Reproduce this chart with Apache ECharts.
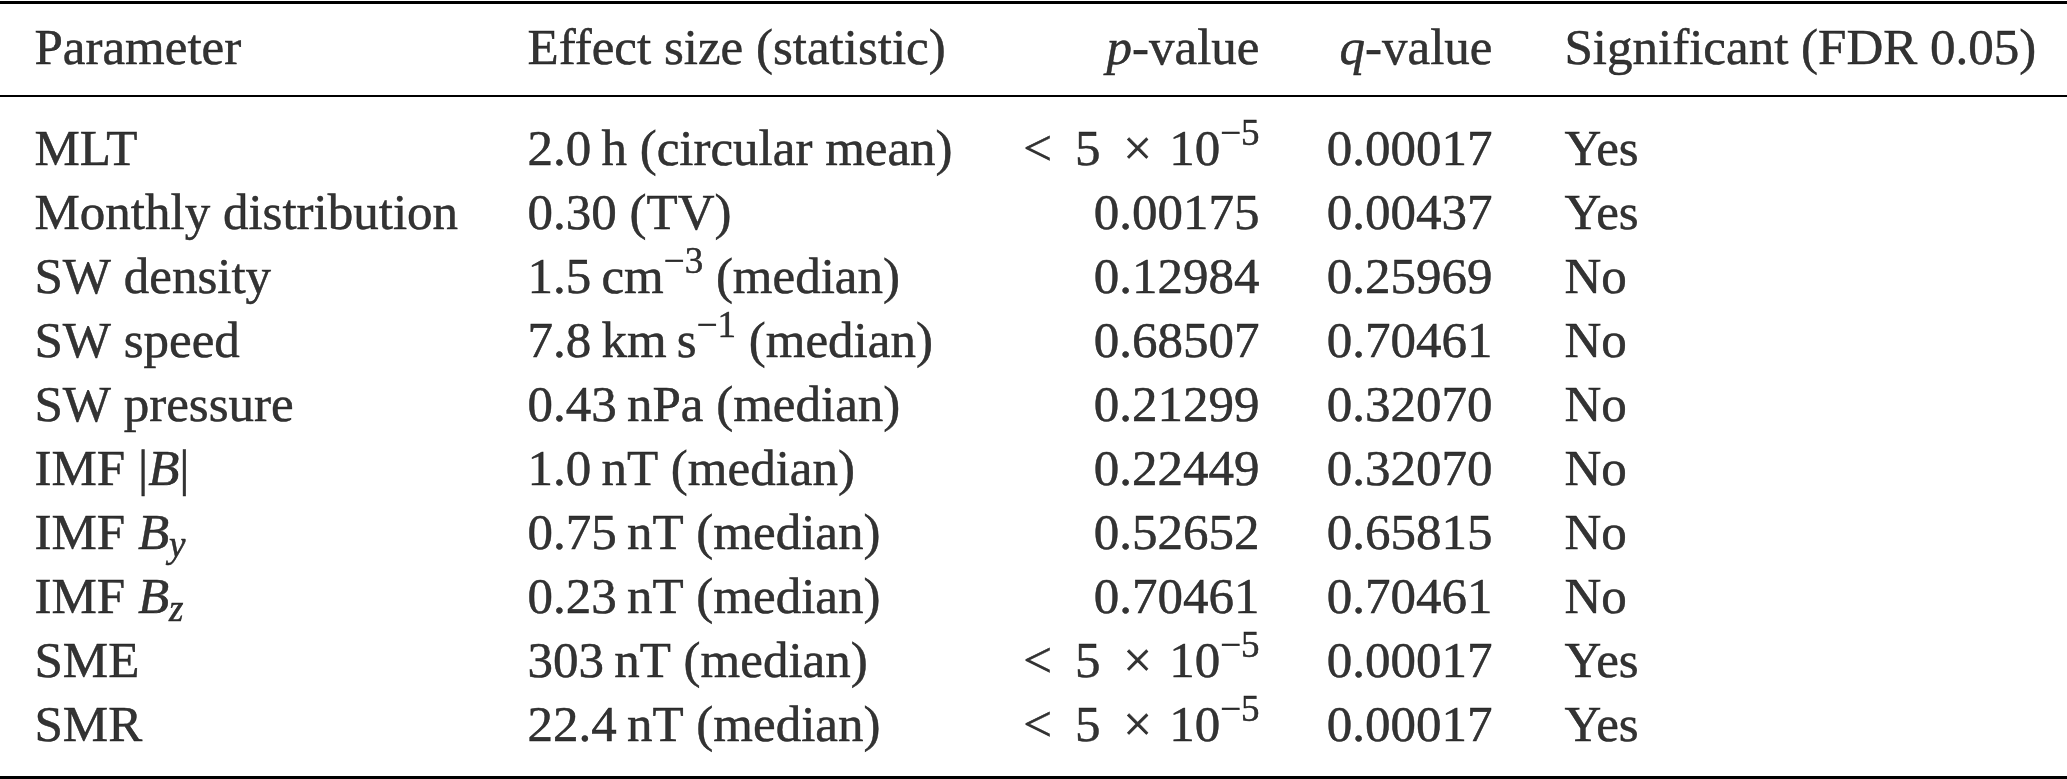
<!DOCTYPE html>
<html>
<head>
<meta charset="utf-8">
<script src="https://cdn.jsdelivr.net/npm/echarts@6/dist/echarts.min.js"></script>
<style>
html, body { margin: 0; padding: 0; background: #ffffff; }
#chart { width: 2067px; height: 779px; }
</style>
</head>
<body>
<div id="chart"></div>
<script>
// ---- Table content (mini markup: *x* italic, ^x superscript, _x subscript) ----
const headers = ['Parameter', 'Effect size (statistic)', '*p*-value', '*q*-value', 'Significant (FDR 0.05)'];
const parameters = ['MLT', 'Monthly distribution', 'SW density', 'SW speed', 'SW pressure',
  'IMF |*B*|', 'IMF *B*_y', 'IMF *B*_z', 'SME', 'SMR'];
const effectSizes = ['2.0\u2009h (circular mean)', '0.30 (TV)', '1.5\u2009cm^\u22123 (median)',
  '7.8\u2009km\u2009s^\u22121 (median)', '0.43\u2009nPa (median)', '1.0\u2009nT (median)',
  '0.75\u2009nT (median)', '0.23\u2009nT (median)', '303\u2009nT (median)', '22.4\u2009nT (median)'];
const pValues = ['<\u2009 5 \u2009\u00d7\u200a 10^\u22125', '0.00175', '0.12984', '0.68507', '0.21299',
  '0.22449', '0.52652', '0.70461', '<\u2009 5 \u2009\u00d7\u200a 10^\u22125', '<\u2009 5 \u2009\u00d7\u200a 10^\u22125'];
const qValues = ['0.00017', '0.00437', '0.25969', '0.70461', '0.32070',
  '0.32070', '0.65815', '0.70461', '0.00017', '0.00017'];
const significant = ['Yes', 'Yes', 'No', 'No', 'No', 'No', 'No', 'No', 'Yes', 'Yes'];
const headerRow = ['Header'];

const columns = [parameters, effectSizes, pValues, qValues, significant];

// ---- Layout (not data) ----
const W = 2067;
const colAnchor = [34, 527, 1260, 1493, 1564];
const colAlign = ['left', 'left', 'right', 'right', 'left'];
const FONT = "'Liberation Serif', 'Times New Roman', serif";
const FS = 51;
const INK = '#000000';
const STROKE = 0.5;

function toRich(s) {
  let out = '', plain = '', i = 0;
  const flush = () => { if (plain) { out += plain; plain = ''; } };
  while (i < s.length) {
    const ch = s[i];
    if (ch === '*') {
      const j = s.indexOf('*', i + 1);
      flush();
      out += '{it|' + s.slice(i + 1, j) + '}';
      i = j + 1;
    } else if (ch === '^' || ch === '_') {
      let j = i + 1;
      while (j < s.length && s[j] !== ' ') j++;
      flush();
      out += '{' + (ch === '^' ? 'sup' : 'sub') + '|' + s.slice(i + 1, j) + '}';
      i = j;
    } else { plain += ch; i++; }
  }
  flush();
  return out;
}

const ink = { color: INK, fontFamily: FONT, textBorderColor: INK, textBorderWidth: STROKE };
const rich = {
  it: Object.assign({ fontStyle: 'italic', fontSize: FS, lineHeight: 60 }, ink),
  sup: Object.assign({ fontSize: 37, lineHeight: 37, padding: [0, 0, 33, 0] }, ink),
  sub: Object.assign({ fontSize: 37, fontStyle: 'italic', lineHeight: 37, padding: [22, 0, 0, 0] }, ink)
};

function labelFor(c, texts) {
  return Object.assign({
    show: true,
    position: colAlign[c] === 'left' ? 'right' : 'left',
    distance: 0,
    fontSize: FS,
    lineHeight: 60,
    rich: rich,
    formatter: p => toRich(texts[p.dataIndex])
  }, ink);
}

const series = [];
columns.forEach((col, c) => {
  series.push({
    type: 'scatter', xAxisIndex: 0, yAxisIndex: 0, symbolSize: 1, silent: true,
    itemStyle: { color: 'rgba(0,0,0,0)' },
    data: [[colAnchor[c], 0]],
    label: labelFor(c, [headers[c]])
  });
  series.push({
    type: 'scatter', xAxisIndex: 2, yAxisIndex: 1, symbolSize: 1, silent: true,
    itemStyle: { color: 'rgba(0,0,0,0)' },
    data: col.map((_, i) => [colAnchor[c], i]),
    label: labelFor(c, col)
  });
});

const hiddenX = { type: 'value', min: 0, max: W, axisTick: { show: false }, axisLabel: { show: false }, splitLine: { show: false } };

const option = {
  animation: false,
  backgroundColor: '#ffffff',
  grid: [
    { left: 0, right: 0, top: 6, height: 90 },
    { left: 0, right: 0, top: 120, bottom: 19 }
  ],
  xAxis: [
    Object.assign({}, hiddenX, { gridIndex: 0, position: 'bottom', axisLine: { show: true, lineStyle: { color: INK, width: 2 } } }),
    Object.assign({}, hiddenX, { gridIndex: 0, position: 'top', offset: 4, axisLine: { show: true, lineStyle: { color: INK, width: 3 } } }),
    Object.assign({}, hiddenX, { gridIndex: 1, position: 'bottom', offset: 17, axisLine: { show: true, lineStyle: { color: INK, width: 3 } } })
  ],
  yAxis: [
    { gridIndex: 0, type: 'category', data: headerRow, show: false },
    { gridIndex: 1, type: 'category', data: parameters, inverse: true, show: false }
  ],
  series: series
};

const chart = echarts.init(document.getElementById('chart'), null, { renderer: 'canvas' });
chart.setOption(option);
</script>
</body>
</html>
